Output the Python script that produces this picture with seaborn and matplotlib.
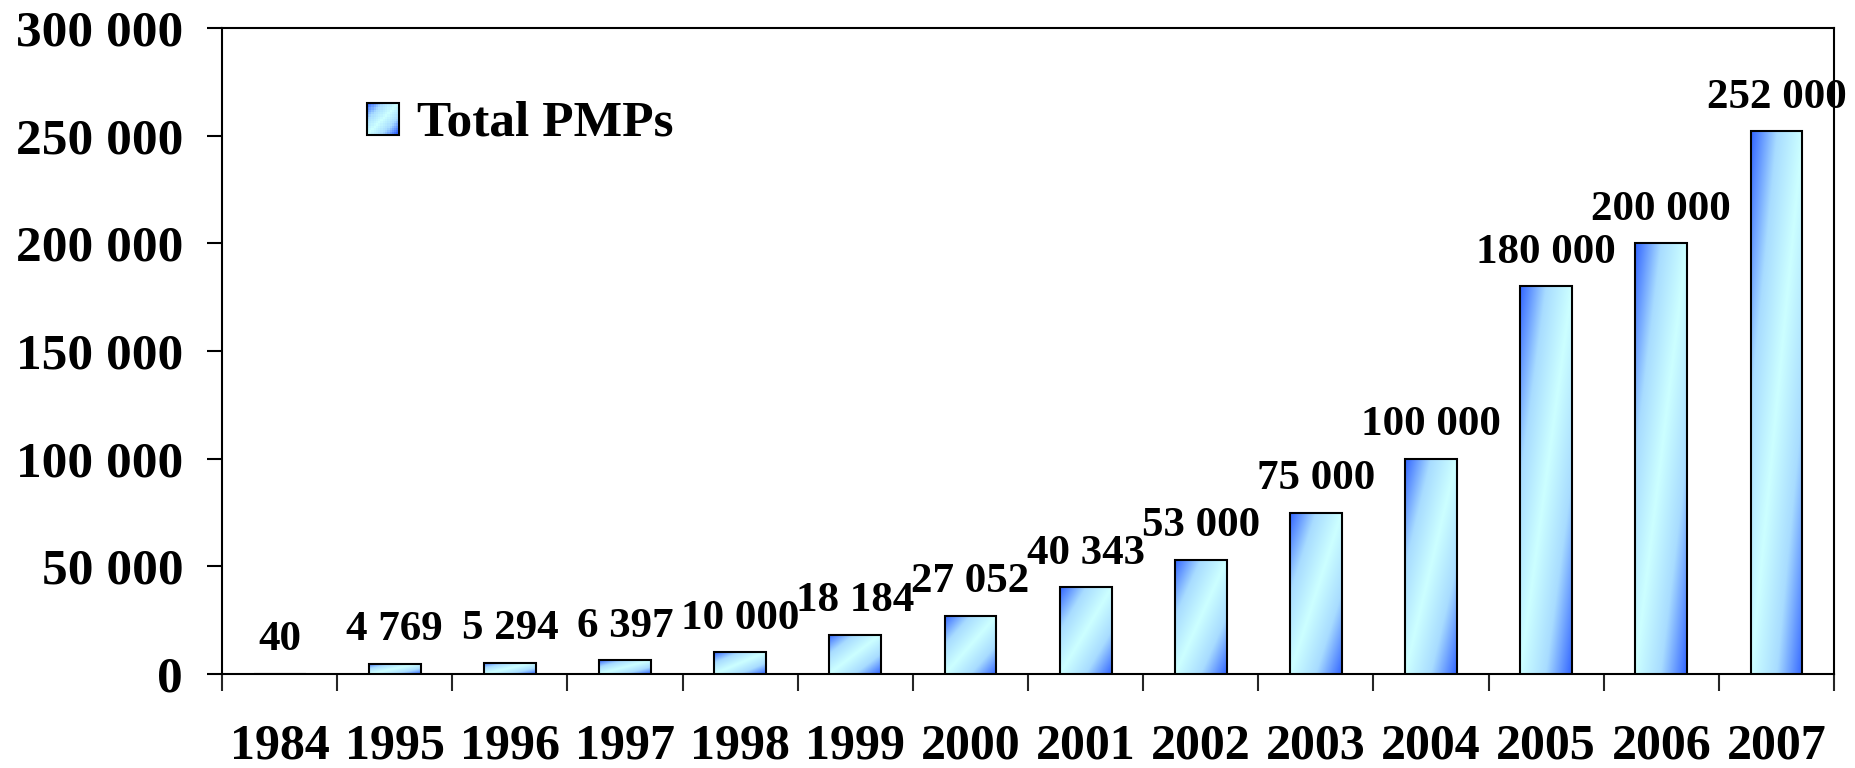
"""
Total PMPs per year - bar chart with diagonal gradient bars.
"""
import numpy as np
import pandas as pd
import matplotlib
matplotlib.use('Agg')
import matplotlib.pyplot as plt
import seaborn as sns
from matplotlib.colors import LinearSegmentedColormap
from matplotlib.patches import Rectangle
from matplotlib.legend_handler import HandlerBase
from matplotlib.ticker import FuncFormatter, FixedLocator

years = ["1984", "1995", "1996", "1997", "1998", "1999", "2000",
         "2001", "2002", "2003", "2004", "2005", "2006", "2007"]
pmps = [40, 4769, 5294, 6397, 10000, 18184, 27052,
        40343, 53000, 75000, 100000, 180000, 200000, 252000]
series_name = "Total PMPs"

sns.set_theme(style="white")
plt.rcParams['font.family'] = ['Liberation Serif', 'DejaVu Serif']
plt.rcParams['font.weight'] = 'bold'
plt.rcParams['text.color'] = 'black'

grad = LinearSegmentedColormap.from_list("pmp", ["#ccffff", "#a8dcff", "#3366ff"])


def gradient_field(n=64):
    # light along the bottom-left/top-right diagonal, blue at the other corners
    u = np.linspace(0, 1, n)
    v = np.linspace(1, 0, n)
    uu, vv = np.meshgrid(u, v)
    return np.abs(uu - vv)


class GradientHandler(HandlerBase):
    def create_artists(self, legend, orig_handle, xdescent, ydescent,
                       width, height, fontsize, trans):
        side = fontsize * 0.62
        x0 = -xdescent + (width - side) / 2
        y0 = -ydescent + (height - side) / 2 - side * 0.05
        n = 14
        field = gradient_field(n)
        arts = []
        for i in range(n):
            for j in range(n):
                arts.append(Rectangle((x0 + j * side / n, y0 + (n - 1 - i) * side / n),
                                      side / n + 0.3, side / n + 0.3,
                                      facecolor=grad(field[i, j]), edgecolor='none',
                                      transform=trans))
        arts.append(Rectangle((x0, y0), side, side, facecolor='none',
                              edgecolor='black', linewidth=1.5, transform=trans))
        return arts


df = pd.DataFrame({"year": years, "pmps": pmps})

fig = plt.figure(figsize=(18.55, 7.68), dpi=100)
ax = fig.add_axes([0.1197, 0.1224, 0.869, 0.8411])

sns.barplot(data=df, x="year", y="pmps", width=0.45, color="white",
            edgecolor="black", linewidth=1.5, ax=ax, zorder=3)

# gradient fill clipped into every bar
field = gradient_field(96)
for patch in ax.patches:
    x0, y0 = patch.get_x(), patch.get_y()
    w, h = patch.get_width(), patch.get_height()
    if h <= 0:
        continue
    im = ax.imshow(field, cmap=grad, vmin=0, vmax=1, aspect='auto',
                   extent=(x0, x0 + w, y0, y0 + h), interpolation='bilinear', zorder=3.5)
    im.set_clip_path(patch)
    patch.set_zorder(4)
    patch.set_facecolor('none')

ax.set_xlim(-0.5, len(years) - 0.5)
ax.set_ylim(0, 300000)

# value labels
for i, v in enumerate(pmps):
    ax.annotate(f"{v:,}".replace(",", " "), (i, v), xytext=(0, 17),
                textcoords='offset points', ha='center', va='baseline',
                fontsize=31, fontweight='bold', color='black', zorder=5)

# axes styling
for s in ax.spines.values():
    s.set_visible(True)
    s.set_color('black')
    s.set_linewidth(1.5)

ax.yaxis.set_major_locator(FixedLocator(np.arange(0, 300001, 50000)))
ax.yaxis.set_major_formatter(FuncFormatter(lambda v, p: f"{int(v):,}".replace(",", " ")))
ax.tick_params(axis='y', direction='out', length=11, width=1.5, pad=17,
               labelsize=37, left=True, colors='black')

ax.set_xticks(np.arange(len(years)), minor=True)
ax.set_xticklabels(years, minor=True)
ax.xaxis.set_major_locator(FixedLocator(np.arange(-0.5, len(years) - 0.4, 1.0)))
ax.tick_params(axis='x', which='major', direction='out', length=12, width=1.5,
               bottom=True, labelbottom=False)
ax.tick_params(axis='x', which='minor', length=0, pad=36, labelsize=36,
               bottom=True, labelbottom=True, colors='black')
for lab in ax.get_xticklabels(minor=True) + ax.get_yticklabels():
    lab.set_fontweight('bold')

ax.set_xlabel("")
ax.set_ylabel("")
ax.grid(False)

handle = Rectangle((0, 0), 1, 1)
leg = ax.legend([handle], [series_name], handler_map={Rectangle: GradientHandler()},
                loc='upper left', bbox_to_anchor=(0.075, 0.921), frameon=False,
                prop={'size': 37, 'weight': 'bold'}, handlelength=0.75, handletextpad=0.3,
                borderaxespad=0)
for t in leg.get_texts():
    t.set_color('black')

fig.savefig("out.png", dpi=100, facecolor='white')
